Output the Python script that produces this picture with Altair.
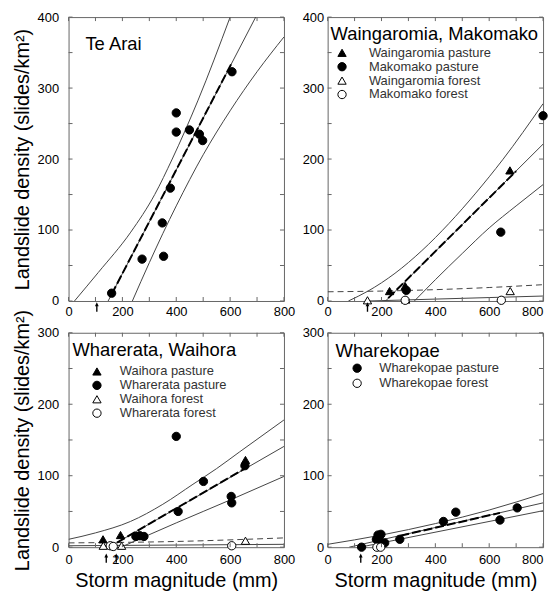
import altair as alt
import pandas as pd

FONT = "Liberation Sans"

# ---------------- axes / ticks ----------------
X_TICK_VALUES = [0, 100, 200, 300, 400, 500, 600, 700, 800]
X_LABEL_VALUES = [0, 200, 400, 600, 800]
Y_LABELS_TOP = [0, 100, 200, 300, 400]
Y_TICKS_TOP = [0, 50, 100, 150, 200, 250, 300, 350, 400]
Y_LABELS_BOTTOM = [0, 100, 200, 300]
Y_TICKS_BOTTOM = [0, 50, 100, 150, 200, 250, 300]

PANEL_TITLES = ["Te Arai", "Waingaromia, Makomako", "Wharerata, Waihora", "Wharekopae"]
X_TITLE = "Storm magnitude (mm)"
Y_TITLE = "Landslide density (slides/km²)"

# ---------------- Te Arai ----------------
TA_X = [160, 273, 353, 348, 378, 400, 400, 449, 486, 498, 607]
TA_Y = [11, 59, 63, 110, 159, 265, 238, 241, 235, 226, 323]
TA_FIT_X = [147, 695]
TA_FIT_Y = [0, 400]
TA_UP_X = [22, 110, 231, 320, 385, 480, 600]
TA_UP_Y = [0, 40, 97, 150, 200, 282, 400]
TA_LO_X = [237, 300, 400, 500, 600, 700, 800]
TA_LO_Y = [0, 54, 134, 206, 268, 323, 372]
TA_DASH_X = [160, 607]
TA_DASH_Y = [9.5, 336]
TA_ARROWS = [105]

# ---------------- Waingaromia, Makomako ----------------
WM_SERIES = ["Waingaromia pasture", "Makomako pasture", "Waingaromia forest", "Makomako forest"]
WM_PT_SERIES = ["Waingaromia pasture"] * 3 + ["Makomako pasture"] * 3 + ["Waingaromia forest"] * 3 + ["Makomako forest"] * 2
WM_PT_X = [230, 288, 677, 292, 643, 800, 148, 290, 678, 288, 645]
WM_PT_Y = [14, 21, 184, 15, 97, 261, 1, 2, 14, 1, 1]
WM_FIT_X = [215, 800]
WM_FIT_Y = [0, 221]
WM_UP_X = [77, 150, 250, 350, 450, 550, 650, 800]
WM_UP_Y = [0, 14, 39, 71, 109, 152, 199, 278]
WM_LO_X = [322, 400, 500, 600, 700, 800]
WM_LO_Y = [0, 30, 67, 103, 134, 164]
WM_DASH_X = [225, 700]
WM_DASH_Y = [4, 183]
WM_FOREST_FIT_X = [150, 800]
WM_FOREST_FIT_Y = [0, 7]
WM_FOREST_UP_X = [0, 200, 400, 600, 800]
WM_FOREST_UP_Y = [13, 14, 16, 19, 23]
WM_ARROWS = [148]

# ---------------- Wharerata, Waihora ----------------
WW_SERIES = ["Waihora pasture", "Wharerata pasture", "Waihora forest", "Wharerata forest"]
WW_PT_SERIES = (["Waihora pasture"] * 3 + ["Wharerata pasture"] * 9
                + ["Waihora forest"] * 3 + ["Wharerata forest"] * 3)
WW_PT_X = [128, 193, 657, 400, 407, 501, 604, 606, 655, 250, 265, 280, 129, 197, 657, 155, 166, 606]
WW_PT_Y = [11, 17, 122, 155, 50, 92, 71, 62, 114, 15, 16, 15, 2, 2, 9, 2, 1, 2]
WW_FIT_X = [150, 800]
WW_FIT_Y = [0, 141]
WW_UP_X = [0, 100, 230, 350, 462, 550, 634, 800]
WW_UP_Y = [11, 20, 36, 60, 88, 110, 133, 178]
WW_LO_X = [195, 400, 600, 800]
WW_LO_Y = [0, 34, 66, 99]
WW_DASH_X = [180, 655]
WW_DASH_Y = [6.5, 110]
WW_FOREST_FIT_X = [0, 800]
WW_FOREST_FIT_Y = [2, 4]
WW_FOREST_UP_X = [0, 400, 800]
WW_FOREST_UP_Y = [6, 8, 13]
WW_ARROWS = [140, 177]

# ---------------- Wharekopae ----------------
WK_SERIES = ["Wharekopae pasture", "Wharekopae forest"]
WK_PT_SERIES = ["Wharekopae pasture"] * 11 + ["Wharekopae forest"] * 2
WK_PT_X = [126, 181, 187, 198, 193, 212, 268, 430, 476, 640, 704, 183, 197]
WK_PT_Y = [0, 11, 17, 18, 9, 6, 11, 36, 49, 38, 55, 0, 0]
WK_FIT_X = [80, 800]
WK_FIT_Y = [0, 62]
WK_UP_X = [0, 200, 400, 600, 800]
WK_UP_Y = [4, 17, 33, 52, 75]
WK_LO_X = [120, 800]
WK_LO_Y = [0, 51]
WK_DASH_X = [270, 640]
WK_DASH_Y = [16, 48]
WK_ARROWS = [123]

W = 217
H_TOP = 286
H_BOT = 216


def line_df(xs, ys, name):
    return pd.DataFrame({"x": xs, "y": ys, "curve": name})


def make_xaxis(with_title, right_col):
    kw = dict(values=X_LABEL_VALUES, ticks=False, tickSize=0, domain=False, grid=False,
              labelPadding=6 if with_title else 5, labelFontSize=13, labelColor="black", labelFont=FONT,
              labelFlush=False, labelOverlap=False, format="d")
    if right_col:
        kw["labelAlign"] = {"condition": {"test": "datum.value == 800", "value": "right"}, "value": "center"}
    if with_title:
        return alt.Axis(title=X_TITLE, titleFontSize=20, titleFont=FONT, titleFontWeight="normal",
                        titleColor="black", titlePadding=5, **kw)
    return alt.Axis(title=None, **kw)


def make_yaxis(values, with_title):
    kw = dict(values=values, ticks=False, tickSize=0, domain=False, grid=False,
              labelPadding=10 if with_title else 4, labelFontSize=13, labelColor="black",
              labelFont=FONT, labelFlush=False, labelOverlap=False, format="d")
    if with_title:
        return alt.Axis(title=Y_TITLE, titleFontSize=20, titleFont=FONT, titleFontWeight="normal",
                        titleColor="black", titlePadding=5, **kw)
    return alt.Axis(title=None, **kw)


def build_panel(H, ymax, yticks, xaxis, yaxis, title, title_xy,
                pts, legend_spec, thin, forest_dashed, thick, arrows, arrow_dy):
    def X():
        return alt.X("x:Q", scale=alt.Scale(domain=[0, 800], nice=False, zero=False), axis=xaxis)

    def Y():
        return alt.Y("y:Q", scale=alt.Scale(domain=[0, ymax], nice=False, zero=False), axis=yaxis)

    layers = []
    thin_df = pd.concat([line_df(*c) for c in thin], ignore_index=True)
    layers.append(alt.Chart(thin_df).mark_line(stroke="#444", strokeWidth=1, clip=True,
                                               interpolate="monotone")
                  .encode(x=X(), y=Y(), detail="curve:N"))
    if forest_dashed:
        fd = pd.concat([line_df(*c) for c in forest_dashed], ignore_index=True)
        layers.append(alt.Chart(fd).mark_line(stroke="#444", strokeWidth=1, strokeDash=[6, 4],
                                              clip=True, interpolate="monotone")
                      .encode(x=X(), y=Y(), detail="curve:N"))
    td = pd.concat([line_df(*c) for c in thick], ignore_index=True)
    layers.append(alt.Chart(td).mark_line(stroke="black", strokeWidth=2, strokeDash=[9, 3], clip=True)
                  .encode(x=X(), y=Y(), detail="curve:N"))

    if legend_spec is None:
        layers.append(alt.Chart(pts).mark_point(filled=True, fill="black", stroke="black",
                                                strokeWidth=1, size=70, opacity=1)
                      .encode(x=X(), y=Y()))
    else:
        series, shapes, fills, leg = legend_spec
        layers.append(alt.Chart(pts).mark_point(filled=True, strokeWidth=1, size=70, opacity=1)
                      .encode(x=X(), y=Y(),
                              shape=alt.Shape("series:N", scale=alt.Scale(domain=series, range=shapes), legend=leg),
                              fill=alt.Fill("series:N", scale=alt.Scale(domain=series, range=fills), legend=leg),
                              stroke=alt.Stroke("series:N", scale=alt.Scale(domain=series, range=["black"] * len(series)),
                                                legend=leg)))

    xt = pd.DataFrame({"x": X_TICK_VALUES})
    yt = pd.DataFrame({"y": yticks})
    layers.append(alt.Chart(xt).mark_rule(color="#666", strokeWidth=1)
                  .encode(x=X(), y=alt.value(H), y2=alt.value(H - 4)))
    layers.append(alt.Chart(xt).mark_rule(color="#666", strokeWidth=1)
                  .encode(x=X(), y=alt.value(0), y2=alt.value(4)))
    layers.append(alt.Chart(yt).mark_rule(color="#666", strokeWidth=1)
                  .encode(y=Y(), x=alt.value(0), x2=alt.value(4)))
    layers.append(alt.Chart(yt).mark_rule(color="#666", strokeWidth=1)
                  .encode(y=Y(), x=alt.value(W - 4), x2=alt.value(W)))

    ar = pd.DataFrame({"x": arrows})
    layers.append(alt.Chart(ar).mark_point(shape="arrow", filled=True, fill="black", size=90, opacity=1)
                  .encode(x=X(), y=alt.value(H + arrow_dy)))

    tt = pd.DataFrame({"t": [title]})
    layers.append(alt.Chart(tt).mark_text(align="left", baseline="alphabetic", fontSize=18.5,
                                          font=FONT, color="black")
                  .encode(x=alt.value(title_xy[0]), y=alt.value(title_xy[1]), text="t:N"))
    return alt.layer(*layers).properties(width=W, height=H)


def legend(lx, ly, offset, rowpad):
    return alt.Legend(orient="none", legendX=lx, legendY=ly, title=None, padding=0,
                      labelFontSize=13, labelFont=FONT, labelColor="#333",
                      symbolSize=70, symbolStrokeWidth=1,
                      labelOffset=offset, rowPadding=rowpad, symbolOffset=0)


# Te Arai
p1 = build_panel(
    H_TOP, 400, Y_TICKS_TOP, make_xaxis(False, False), make_yaxis(Y_LABELS_TOP, True),
    PANEL_TITLES[0], (17, 32.7),
    pd.DataFrame({"x": TA_X, "y": TA_Y}), None,
    [(TA_FIT_X, TA_FIT_Y, "fit"), (TA_UP_X, TA_UP_Y, "up"), (TA_LO_X, TA_LO_Y, "lo")],
    None, [(TA_DASH_X, TA_DASH_Y, "dash")], TA_ARROWS, 6)

p2 = build_panel(
    H_TOP, 400, Y_TICKS_TOP, make_xaxis(False, True), make_yaxis(Y_LABELS_TOP, False),
    PANEL_TITLES[1], (3, 22.7),
    pd.DataFrame({"x": WM_PT_X, "y": WM_PT_Y, "series": WM_PT_SERIES}),
    (WM_SERIES, ["triangle-up", "circle", "triangle-up", "circle"], ["black", "black", "white", "white"],
     legend(8, 29.5, 20.6, -1.1)),
    [(WM_FIT_X, WM_FIT_Y, "fit"), (WM_UP_X, WM_UP_Y, "up"), (WM_LO_X, WM_LO_Y, "lo"),
     (WM_FOREST_FIT_X, WM_FOREST_FIT_Y, "ffit")],
    [(WM_FOREST_UP_X, WM_FOREST_UP_Y, "fup")],
    [(WM_DASH_X, WM_DASH_Y, "dash")], WM_ARROWS, 6)

p3 = build_panel(
    H_BOT, 300, Y_TICKS_BOTTOM, make_xaxis(True, False), make_yaxis(Y_LABELS_BOTTOM, True),
    PANEL_TITLES[2], (4, 23.6),
    pd.DataFrame({"x": WW_PT_X, "y": WW_PT_Y, "series": WW_PT_SERIES}),
    (WW_SERIES, ["triangle-up", "circle", "triangle-up", "circle"], ["black", "black", "white", "white"],
     legend(22.1, 32.5, 16.5, -0.5)),
    [(WW_FIT_X, WW_FIT_Y, "fit"), (WW_UP_X, WW_UP_Y, "up"), (WW_LO_X, WW_LO_Y, "lo"),
     (WW_FOREST_FIT_X, WW_FOREST_FIT_Y, "ffit")],
    [(WW_FOREST_UP_X, WW_FOREST_UP_Y, "fup")],
    [(WW_DASH_X, WW_DASH_Y, "dash")], WW_ARROWS, 11)

p4 = build_panel(
    H_BOT, 300, Y_TICKS_BOTTOM, make_xaxis(True, True), make_yaxis(Y_LABELS_BOTTOM, False),
    PANEL_TITLES[3], (8, 24),
    pd.DataFrame({"x": WK_PT_X, "y": WK_PT_Y, "series": WK_PT_SERIES}),
    (WK_SERIES, ["circle", "circle"], ["black", "white"], legend(23.2, 29.2, 15.8, 1.2)),
    [(WK_FIT_X, WK_FIT_Y, "fit"), (WK_UP_X, WK_UP_Y, "up"), (WK_LO_X, WK_LO_Y, "lo")],
    None, [(WK_DASH_X, WK_DASH_Y, "dash")], WK_ARROWS, 11)

chart = (
    alt.concat(p1, p2, p3, p4, columns=2, spacing={"row": 32, "column": 44}, bounds="flush")
    .resolve_scale(x="independent", y="independent", shape="independent", fill="independent",
                   stroke="independent")
    .resolve_legend(shape="independent", fill="independent", stroke="independent")
    .properties(padding={"left": 3, "top": 0, "right": 0, "bottom": 0})
    .configure(font=FONT)
    .configure_view(stroke="#666", strokeWidth=1)
)

chart.save("out.html", embed_options={"renderer": "svg", "actions": False})
